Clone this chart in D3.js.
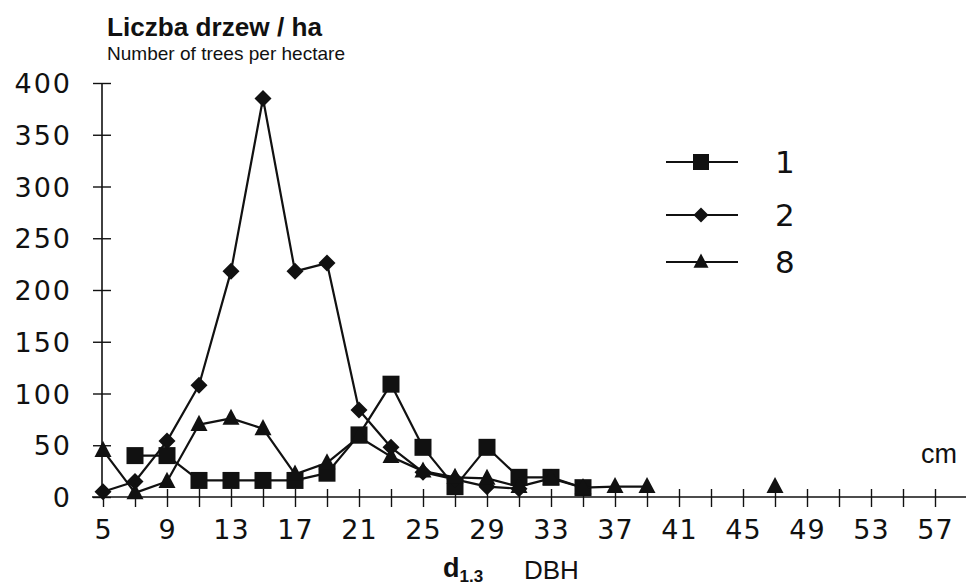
<!DOCTYPE html>
<html>
<head>
<meta charset="utf-8">
<script src="https://cdn.jsdelivr.net/npm/d3@7"></script>
<style>
  html, body { margin: 0; padding: 0; background: #fff; }
  svg { display: block; }
</style>
</head>
<body>
<svg id="chart" width="966" height="587"></svg>
<script>
// Diameter classes (cm) along the x axis
const dbhClasses = d3.range(5, 60, 2);
const xTickLabels = [5, 9, 13, 17, 21, 25, 29, 33, 37, 41, 45, 49, 53, 57];
const yTicks = [0, 50, 100, 150, 200, 250, 300, 350, 400];

// Trees per hectare for each plot (null = no trees in that class)
const plot1 = [null, 40, 40, 16, 16, 16, 16, 23, 60, 109, 48, 10, 48, 19, 19, 9,
  null, null, null, null, null, null, null, null, null, null, null, null];
const plot2 = [5, 15, 54, 108, 218, 385, 218, 226, 84, 48, 24, 17, 10, 8, null, null,
  null, null, null, null, null, null, null, null, null, null, null, null];
const plot8 = [45, 4, 15, 70, 76, 66, 22, 33, 58, 39, 25, 19, 18, 10, 18, 9,
  10, 10, null, null, null, 10, null, null, null, null, null, null];

const seriesNames = ["1", "2", "8"];
const seriesValues = [plot1, plot2, plot8];
const seriesMarkers = ["square", "diamond", "triangle"];

const svg = d3.select("#chart");
const x = d3.scalePoint().domain(dbhClasses).range([103, 967]).padding(0);
const y = d3.scaleLinear().domain([0, 400]).range([497, 83]);

const ink = "#111";

function markerPath(kind, s) {
  if (kind === "square") {
    return `M${-s/2},${-s/2}H${s/2}V${s/2}H${-s/2}Z`;
  }
  if (kind === "diamond") {
    return `M0,${-s/2}L${s/2},0L0,${s/2}L${-s/2},0Z`;
  }
  // triangle, centred on the value
  const h = s * 0.95;
  return `M0,${-h*0.6}L${s/2},${h*0.4}L${-s/2},${h*0.4}Z`;
}

// Axes
const xAxis = d3.axisBottom(x)
  .tickValues(dbhClasses)
  .tickSize(9)
  .tickPadding(14)
  .tickFormat(d => xTickLabels.includes(d) ? String(d) : "");
const gx = svg.append("g").attr("transform", `translate(0,${y(0)})`).call(xAxis);
gx.select(".domain").remove();
gx.append("line").attr("x1", 92).attr("x2", 966).attr("y1", 0).attr("y2", 0)
  .attr("stroke", ink).attr("stroke-width", 1.6);
gx.selectAll(".tick line").attr("y1", -8).attr("y2", 10).attr("stroke", ink).attr("stroke-width", 1.4);
gx.selectAll(".tick text")
  .attr("font-family", "DejaVu Sans, sans-serif")
  .attr("font-size", 27)
  .attr("letter-spacing", 1)
  .attr("fill", ink);

const yAxis = d3.axisLeft(y)
  .tickValues(yTicks)
  .tickSize(9)
  .tickPadding(21)
  .tickFormat(d => String(d));
const gy = svg.append("g").attr("transform", `translate(${x(5) - 1},0)`).call(yAxis);
gy.select(".domain").remove();
gy.append("line").attr("x1", 0).attr("x2", 0).attr("y1", y(400)).attr("y2", y(0))
  .attr("stroke", ink).attr("stroke-width", 1.6);
gy.selectAll(".tick line").attr("x1", -9).attr("x2", 9).attr("stroke", ink).attr("stroke-width", 1.4);
gy.selectAll(".tick text")
  .attr("font-family", "DejaVu Sans, sans-serif")
  .attr("font-size", 27)
  .attr("letter-spacing", 2)
  .attr("dy", "0.36em")
  .attr("fill", ink);

// Series lines and markers
const line = d3.line()
  .defined(d => d.v !== null)
  .x(d => x(d.c))
  .y(d => y(d.v));

seriesValues.forEach((vals, i) => {
  const pts = dbhClasses.map((c, j) => ({ c, v: vals[j] }));
  const g = svg.append("g");
  g.append("path")
    .attr("d", line(pts))
    .attr("fill", "none")
    .attr("stroke", ink)
    .attr("stroke-width", 2.2)
    .attr("stroke-linejoin", "round");
  g.selectAll("path.mk")
    .data(pts.filter(d => d.v !== null))
    .join("path")
    .attr("class", "mk")
    .attr("transform", d => `translate(${x(d.c)},${y(d.v)})`)
    .attr("d", markerPath(seriesMarkers[i], 17))
    .attr("fill", ink);
});

// Legend
const legend = svg.append("g");
const legendY = [162, 215, 262];
seriesNames.forEach((name, i) => {
  const g = legend.append("g").attr("transform", `translate(0,${legendY[i]})`);
  g.append("line").attr("x1", 666).attr("x2", 738).attr("y1", 0).attr("y2", 0)
    .attr("stroke", ink).attr("stroke-width", 2);
  g.append("path").attr("transform", "translate(701,0)")
    .attr("d", markerPath(seriesMarkers[i], seriesMarkers[i] === "square" ? 16 : 15))
    .attr("fill", ink);
  g.append("text").attr("x", 775).attr("y", 11)
    .attr("font-family", "DejaVu Sans, sans-serif")
    .attr("font-size", 31)
    .attr("fill", ink)
    .text(name);
});

// Titles
svg.append("text").attr("x", 107).attr("y", 36)
  .attr("font-family", "Liberation Sans Narrow, Liberation Sans, Arial, sans-serif")
  .attr("font-weight", "bold").attr("font-size", 26)
  .attr("textLength", 215).attr("lengthAdjust", "spacingAndGlyphs")
  .attr("fill", ink).text("Liczba drzew / ha");
svg.append("text").attr("x", 107).attr("y", 60)
  .attr("font-family", "Liberation Sans Narrow, Liberation Sans, Arial, sans-serif")
  .attr("font-size", 19)
  .attr("textLength", 238).attr("lengthAdjust", "spacingAndGlyphs")
  .attr("fill", ink).text("Number of trees per hectare");

svg.append("text").attr("x", 921).attr("y", 463)
  .attr("font-family", "Liberation Sans, Arial, sans-serif")
  .attr("font-size", 27)
  .attr("fill", ink).text("cm");

const xt = svg.append("text").attr("x", 443).attr("y", 577)
  .attr("font-family", "Liberation Sans, Arial, sans-serif")
  .attr("fill", ink);
xt.append("tspan").attr("font-weight", "bold").attr("font-size", 27).text("d");
xt.append("tspan").attr("font-weight", "bold").attr("font-size", 17).attr("dy", 5).text("1.3");
svg.append("text").attr("x", 524).attr("y", 579)
  .attr("font-family", "Liberation Sans, Arial, sans-serif")
  .attr("font-size", 26)
  .attr("fill", ink).text("DBH");
</script>
</body>
</html>
